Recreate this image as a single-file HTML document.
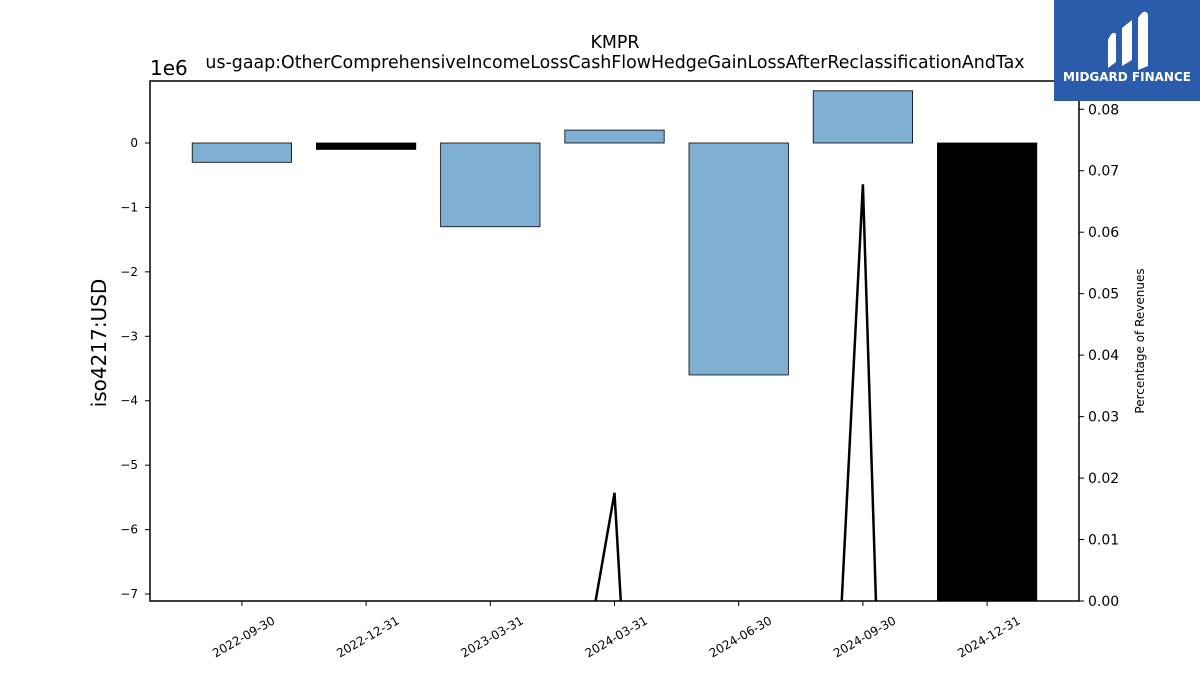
<!DOCTYPE html>
<html><head><meta charset="utf-8"><style>
html,body{margin:0;background:#fff;width:1200px;height:675px;overflow:hidden;font-family:"Liberation Sans","DejaVu Sans",sans-serif}
svg{display:block}
svg text{font-family:"DejaVu Sans","Liberation Sans",sans-serif}
</style></head><body>
<svg id="chart" width="1200" height="675">
<g id="plot"></g>
<text x="615" y="48" font-size="17.4" text-anchor="middle">KMPR</text>
<text x="615" y="68" font-size="17.4" text-anchor="middle">us-gaap:OtherComprehensiveIncomeLossCashFlowHedgeGainLossAfterReclassificationAndTax</text>
<text x="150" y="75" font-size="20">1e6</text>
<text transform="translate(106,343) rotate(-90)" font-size="20" text-anchor="middle">iso4217:USD</text>
<text transform="translate(1144,341) rotate(-90)" font-size="12" text-anchor="middle">Percentage of Revenues</text>
<g>
<rect x="1054" y="0" width="146" height="101" fill="#2b5cab"/>
<path d="M1108 68 L1108 40 Q1112 30 1116 34 L1116 62 Z M1122 66 L1122 28 L1132 20 L1132 60 Z M1138 70 L1138 18 Q1144 8 1148 14 L1148 66 Z" fill="#fff"/>
<text x="1127" y="81" font-size="12" font-weight="bold" fill="#fff" text-anchor="middle" font-family="Liberation Sans">MIDGARD FINANCE</text>
</g>
</svg>
<script>
const categories=["2022-09-30","2022-12-31","2023-03-31","2024-03-31","2024-06-30","2024-09-30","2024-12-31"];
const values=[-0.3e6,-0.1e6,-1.3e6,0.2e6,-3.6e6,0.81e6,-20e6];
const barColors=["#7fb0d3","#000","#7fb0d3","#7fb0d3","#7fb0d3","#7fb0d3","#000"];
const pctRevenue=[-0.1,-0.1,-0.098,0.0176,-0.33,0.0678,-0.578];
const leftTicks=[0,-1,-2,-3,-4,-5,-6,-7];
const rightTicks=[0,0.01,0.02,0.03,0.04,0.05,0.06,0.07,0.08];
const X0=150,X1=1079,Y0=81,Y1=601;
const yMin=-7.108e6,yMax=0.962e6,rMin=0,rMax=0.0846;
const n=categories.length;
const xLo=-0.74,xHi=n-1+0.74;
const xc=i=>X0+(i-xLo)/(xHi-xLo)*(X1-X0);
const step=(X1-X0)/(xHi-xLo);
const y=v=>Y0+(yMax-v)/(yMax-yMin)*(Y1-Y0);
const yr=v=>Y1-(v-rMin)/(rMax-rMin)*(Y1-Y0);
const NS="http://www.w3.org/2000/svg",g=document.getElementById('plot');
function mk(t,a){const e=document.createElementNS(NS,t);for(const k in a)e.setAttribute(k,a[k]);g.appendChild(e);return e;}
const defs=mk('defs',{});const cp=document.createElementNS(NS,'clipPath');cp.setAttribute('id','clip');
const cr=document.createElementNS(NS,'rect');cr.setAttribute('x',X0);cr.setAttribute('y',Y0);cr.setAttribute('width',X1-X0);cr.setAttribute('height',Y1-Y0);cp.appendChild(cr);defs.appendChild(cp);
const bw=step*0.8;
values.forEach((v,i)=>{const t=Math.min(y(v),y(0)),h=Math.abs(y(v)-y(0));
const r=mk('rect',{x:xc(i)-bw/2,y:t,width:bw,height:Math.max(h,1),fill:barColors[i],stroke:"#000","stroke-width":0.8,"clip-path":"url(#clip)"});

});
const pts=pctRevenue.map((v,i)=>xc(i)+","+yr(v)).join(" ");
const ln=mk('polyline',{points:pts,fill:"none",stroke:"#000","stroke-width":2.5,"clip-path":"url(#clip)"});


const fr=mk('rect',{x:X0,y:Y0,width:X1-X0,height:Y1-Y0,fill:"none",stroke:"#000","stroke-width":1.5});


leftTicks.forEach(t=>{const yy=y(t*1e6);mk('line',{x1:X0-5,x2:X0,y1:yy,y2:yy,stroke:"#000"});
const tx=mk('text',{x:X0-12,y:yy+4,"font-size":12,"text-anchor":"end"});tx.textContent=t<0?"\u2212"+(-t):""+t;

});
rightTicks.forEach(t=>{const yy=yr(t);mk('line',{x1:X1,x2:X1+5,y1:yy,y2:yy,stroke:"#000"});
const tx=mk('text',{x:X1+9,y:yy+5,"font-size":14});tx.textContent=t.toFixed(2);

});
categories.forEach((c,i)=>{const x=xc(i);mk('line',{x1:x,x2:x,y1:Y1,y2:Y1+5,stroke:"#000"});
const tx=mk('text',{transform:`translate(${x+34},${Y1+22}) rotate(-30)`,"font-size":12,"text-anchor":"end"});tx.textContent=c;

});
</script>
</body></html>
